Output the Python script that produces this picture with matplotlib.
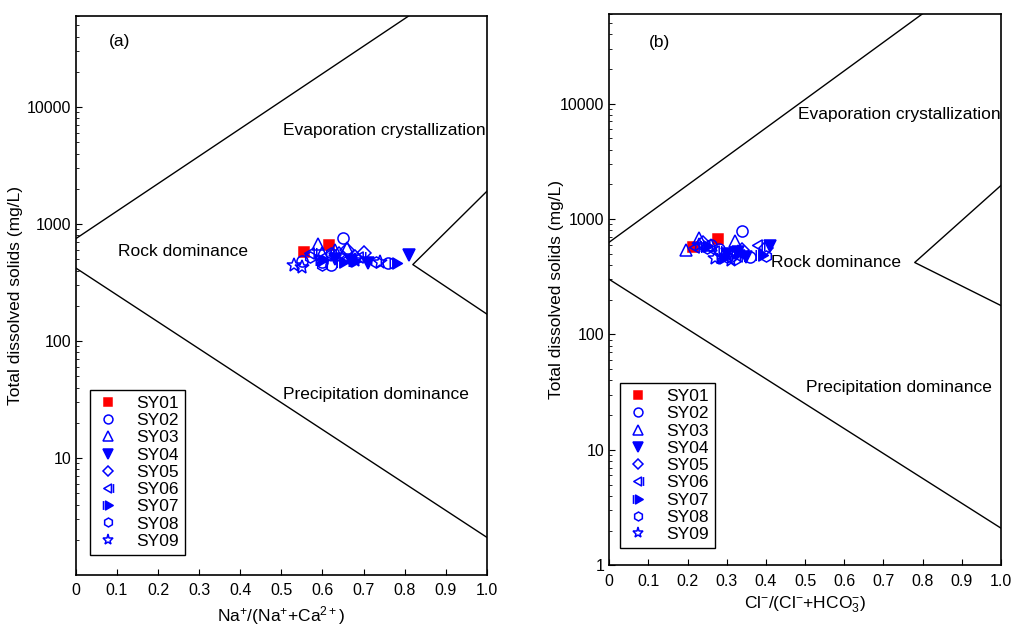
"""Gibbs diagrams (a) Na/(Na+Ca) and (b) Cl/(Cl+HCO3)"""
import matplotlib.pyplot as plt
import numpy as np
from matplotlib.path import Path

plt.rcParams['font.family'] = ['Liberation Sans', 'DejaVu Sans']
plt.rcParams['mathtext.fontset'] = 'custom'
plt.rcParams['mathtext.rm'] = 'Liberation Sans'
plt.rcParams['mathtext.it'] = 'Liberation Sans'
plt.rcParams['mathtext.default'] = 'regular'

sites = ['SY01', 'SY02', 'SY03', 'SY04', 'SY05', 'SY06', 'SY07', 'SY08', 'SY09']

# (a) Na+/(Na+ + Ca2+) vs TDS
na_ratio = {
    'SY01': [0.555, 0.615],
    'SY02': [0.65, 0.60, 0.62, 0.76, 0.55],
    'SY03': [0.59, 0.63, 0.60, 0.66],
    'SY04': [0.81, 0.71, 0.67, 0.63],
    'SY05': [0.70, 0.66, 0.68, 0.64],
    'SY06': [0.57, 0.69, 0.66, 0.61],
    'SY07': [0.78, 0.65, 0.68, 0.60],
    'SY08': [0.60, 0.73, 0.62, 0.57],
    'SY09': [0.53, 0.55, 0.74, 0.68],
}
tds_a = {
    'SY01': [575, 660],
    'SY02': [760, 470, 450, 460, 480],
    'SY03': [680, 600, 560, 620],
    'SY04': [545, 465, 480, 500],
    'SY05': [560, 600, 520, 550],
    'SY06': [570, 520, 500, 540],
    'SY07': [460, 470, 480, 490],
    'SY08': [450, 470, 560, 520],
    'SY09': [450, 430, 470, 490],
}

# (b) Cl-/(Cl- + HCO3-) vs TDS
cl_ratio = {
    'SY01': [0.214, 0.278],
    'SY02': [0.34, 0.26, 0.31, 0.36, 0.28],
    'SY03': [0.195, 0.23, 0.26, 0.32],
    'SY04': [0.41, 0.33, 0.35, 0.30],
    'SY05': [0.40, 0.24, 0.31, 0.34],
    'SY06': [0.38, 0.22, 0.27, 0.33],
    'SY07': [0.39, 0.33, 0.29, 0.25],
    'SY08': [0.30, 0.40, 0.25, 0.32],
    'SY09': [0.23, 0.31, 0.33, 0.27],
}
tds_b = {
    'SY01': [570, 670],
    'SY02': [790, 600, 480, 470, 550],
    'SY03': [540, 680, 590, 640],
    'SY04': [580, 520, 470, 500],
    'SY05': [560, 620, 500, 540],
    'SY06': [590, 570, 530, 480],
    'SY07': [490, 510, 460, 580],
    'SY08': [470, 480, 560, 450],
    'SY09': [600, 440, 520, 460],
}

# triangle-with-bar markers for SY06 / SY07
left_bar = Path([(-0.8, 0), (0.5, 0.75), (0.5, -0.75), (-0.8, 0), (0.85, 0.75), (0.85, -0.75)],
                [Path.MOVETO, Path.LINETO, Path.LINETO, Path.CLOSEPOLY, Path.MOVETO, Path.LINETO])
right_bar = Path([(0.8, 0), (-0.5, 0.75), (-0.5, -0.75), (0.8, 0), (-0.85, 0.75), (-0.85, -0.75)],
                 [Path.MOVETO, Path.LINETO, Path.LINETO, Path.CLOSEPOLY, Path.MOVETO, Path.LINETO])

styles = {
    'SY01': dict(marker='s', mfc='#FF0000', mec='#FF0000', ms=7),
    'SY02': dict(marker='o', mfc='none', mec='#0000FF', ms=8),
    'SY03': dict(marker='^', mfc='none', mec='#0000FF', ms=9),
    'SY04': dict(marker='v', mfc='#0000FF', mec='#0000FF', ms=9),
    'SY05': dict(marker='D', mfc='none', mec='#0000FF', ms=7),
    'SY06': dict(marker=left_bar, mfc='none', mec='#0000FF', ms=9),
    'SY07': dict(marker=right_bar, mfc='#0000FF', mec='#0000FF', ms=9),
    'SY08': dict(marker='h', mfc='none', mec='#0000FF', ms=8),
    'SY09': dict(marker='*', mfc='none', mec='#0000FF', ms=10),
}

fig = plt.figure(figsize=(10.12, 6.26), dpi=100)
ax1 = fig.add_axes([0.075, 0.0815, 0.406, 0.893])
ax2 = fig.add_axes([0.602, 0.097, 0.387, 0.881])


def setup(ax, yticks, label_x):
    ax.set_yscale('log')
    ax.set_xlim(0, 1.0)
    ax.set_ylim(1, 60000)
    ax.set_xticks(np.arange(0, 1.01, 0.1))
    ax.set_xticklabels(['0'] + [f'{v:.1f}' for v in np.arange(0.1, 1.01, 0.1)])
    ax.set_yticks(yticks)
    ax.set_yticklabels([str(v) for v in yticks])
    ax.tick_params(which='both', direction='in', labelsize=11.5)
    ax.tick_params(which='major', length=4)
    ax.tick_params(which='minor', length=2)
    ax.tick_params(axis='x', pad=6)
    for s in ax.spines.values():
        s.set_linewidth(1.2)
    ax.set_ylabel('Total dissolved solids (mg/L)', fontsize=12.5)
    ax.yaxis.set_label_coords(label_x, 0.5)


def draw(ax, xs, ys, loc_anchor):
    for site in sites:
        ax.plot(xs[site], ys[site], linestyle='none', markeredgewidth=1.1,
                label=site, **styles[site])
    leg = ax.legend(loc='lower left', bbox_to_anchor=loc_anchor, fontsize=12.5,
                    handlelength=1.4, handletextpad=0.9, labelspacing=0.12,
                    borderpad=0.35, borderaxespad=0, fancybox=False, edgecolor='black',
                    framealpha=1, markerscale=0.8)
    leg.get_frame().set_linewidth(1.0)


# (a)
setup(ax1, [10, 100, 1000, 10000], -0.128)
ax1.plot([0, 0.81], [750, 60000], color='black', lw=1.0)
ax1.plot([0, 1.0], [420, 2.1], color='black', lw=1.0)
ax1.plot([1.0, 0.82, 1.0], [1900, 450, 170], color='black', lw=1.0)
draw(ax1, na_ratio, tds_a, (0.034, 0.036))
ax1.text(0.08, 33000, '(a)', fontsize=12.5)
ax1.text(0.75, 6300, 'Evaporation crystallization', fontsize=12.5, ha='center', va='center')
ax1.text(0.26, 580, 'Rock dominance', fontsize=12.5, ha='center', va='center')
ax1.text(0.73, 35, 'Precipitation dominance', fontsize=12.5, ha='center', va='center')
ax1.set_xlabel('Na$^{+}$/(Na$^{+}$+Ca$^{2+}$)', fontsize=12.5)

# (b)
setup(ax2, [1, 10, 100, 1000, 10000], -0.115)
ax2.plot([0, 0.8], [630, 60000], color='black', lw=1.0)
ax2.plot([0, 1.0], [300, 2.1], color='black', lw=1.0)
ax2.plot([1.0, 0.78, 1.0], [1950, 420, 178], color='black', lw=1.0)
draw(ax2, cl_ratio, tds_b, (0.028, 0.031))
ax2.text(0.1, 31000, '(b)', fontsize=12.5)
ax2.text(0.74, 8000, 'Evaporation crystallization', fontsize=12.5, ha='center', va='center')
ax2.text(0.58, 420, 'Rock dominance', fontsize=12.5, ha='center', va='center')
ax2.text(0.74, 35, 'Precipitation dominance', fontsize=12.5, ha='center', va='center')
ax2.set_xlabel('Cl$^{-}$/(Cl$^{-}$+HCO$_3^{-}$)', fontsize=12.5)

plt.savefig('out.png', dpi=100)
plt.close()
